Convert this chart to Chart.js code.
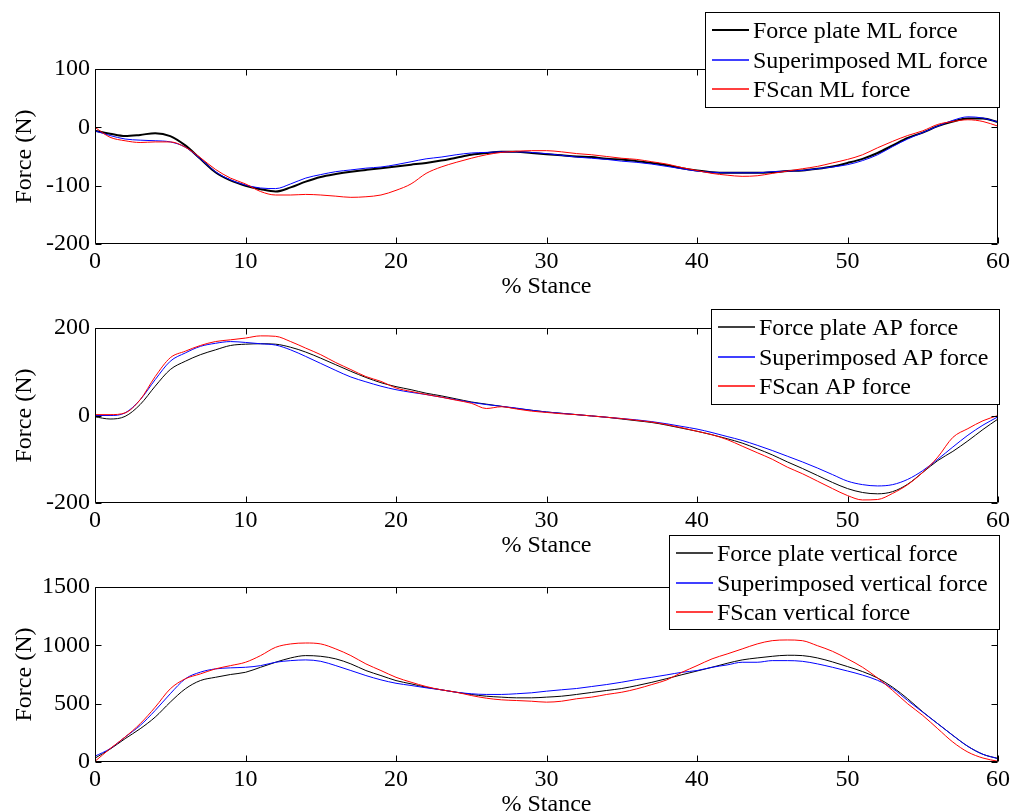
<!DOCTYPE html>
<html>
<head>
<meta charset="utf-8">
<title>Stance force comparison</title>
<script src="https://cdn.jsdelivr.net/npm/chart.js@4.4.0/dist/chart.umd.min.js"></script>
<style>
  html, body { margin: 0; padding: 0; background: #fff; width: 1013px; height: 812px; overflow: hidden; }
  .panel { position: absolute; left: 0; }
</style>
</head>
<body>
<canvas id="mlPanel" class="panel" width="1013" height="301" style="top:0px"></canvas>
<canvas id="apPanel" class="panel" width="1013" height="301" style="top:259px"></canvas>
<canvas id="vtPanel" class="panel" width="1013" height="301" style="top:518px"></canvas>
<script>
// % of stance (x axis samples)
const stancePct = [0,1,2,3,4,5,6,7,8,9,10,11,12,13,14,15,16,17,18,19,20,21,22,23,24,25,26,27,28,29,30,
                   31,32,33,34,35,36,37,38,39,40,41,42,43,44,45,46,47,48,49,50,51,52,53,54,55,56,57,58,59,60];

// Medio-lateral force (N)
const fpML  = [-6,-11,-15,-13,-10,-15,-31,-54,-77,-91,-100,-106,-110,-103,-93,-85,-80,-76,-73,-70,-67,-64,-61,-57,-52,-47,-44,-42,-42,-44,-46,
               -48,-50,-51,-54,-55,-58,-61,-65,-70,-74,-77,-78,-78,-78,-77,-75,-74,-71,-67,-61,-54,-44,-31,-18,-9,2,10,15,15,9];
const supML = [-6,-14,-20,-22,-23,-25,-34,-54,-76,-90,-99,-104,-105,-97,-87,-81,-76,-73,-70,-68,-64,-59,-54,-51,-47,-44,-43,-42,-42,-43,-45,
               -48,-51,-53,-55,-58,-60,-63,-67,-71,-75,-77,-78,-78,-78,-76,-75,-74,-71,-68,-64,-57,-47,-33,-20,-9,2,12,18,16,9];
const fsML  = [0,-17,-23,-26,-25,-25,-34,-52,-72,-87,-97,-110,-116,-116,-115,-116,-118,-120,-119,-116,-108,-97,-79,-68,-60,-53,-47,-43,-41,-40,-40,
               -42,-45,-47,-50,-53,-55,-59,-63,-69,-74,-79,-82,-84,-83,-79,-75,-71,-67,-61,-55,-47,-35,-24,-14,-6,5,10,13,10,2];

// Antero-posterior force (N)
const fpAP  = [-3,-8,-2,25,67,105,124,139,150,160,163,164,163,156,145,131,116,101,87,75,66,59,51,45,38,31,26,21,16,12,8,
               5,2,-1,-4,-8,-12,-16,-22,-29,-36,-44,-53,-63,-76,-90,-106,-121,-137,-153,-167,-176,-179,-174,-157,-130,-103,-82,-58,-32,-8];
const supAP = [0,0,6,36,82,124,143,158,165,169,167,164,161,150,135,119,103,88,77,67,59,53,48,42,36,30,25,21,17,12,8,
               5,2,-1,-4,-7,-10,-14,-19,-25,-31,-39,-48,-57,-68,-80,-93,-106,-120,-135,-150,-158,-161,-158,-146,-126,-100,-72,-45,-22,-3];
const fsAP  = [2,2,6,36,89,132,147,160,169,173,177,182,181,169,154,139,121,105,89,78,63,55,48,42,35,28,16,20,15,10,7,
               4,2,-1,-4,-7,-11,-15,-21,-28,-36,-44,-55,-70,-85,-100,-118,-133,-150,-167,-183,-193,-192,-178,-158,-130,-95,-50,-30,-12,0];

// Vertical force (N)
const fpVert  = [33,110,200,285,385,513,627,698,726,750,769,812,855,892,912,906,884,841,784,741,698,670,641,619,598,579,564,556,550,550,556,
                 564,579,596,613,630,655,683,715,748,780,812,846,875,892,906,915,912,892,858,818,775,720,641,542,430,328,228,134,66,30];
const supVert = [50,114,214,313,442,585,713,770,798,807,812,826,855,869,875,863,826,784,741,704,675,656,636,619,598,585,579,579,585,593,607,
                 619,630,647,664,684,707,726,747,769,784,812,832,855,855,869,869,863,841,812,780,745,700,630,527,427,328,228,134,66,29];
const fsVert  = [6,114,214,328,470,627,713,755,798,826,855,912,983,1012,1020,1012,969,912,841,784,726,684,647,619,598,570,547,533,527,521,513,
                 521,542,556,579,598,627,664,704,769,826,884,926,969,1012,1040,1046,1040,997,949,884,812,720,613,499,399,285,171,85,34,6];

// Tick values
const stanceTicks = [0,10,20,30,40,50,60];
const mlTicks   = [-200,-100,0,100];
const apTicks   = [-200,0,200];
const vertTicks = [0,500,1000,1500];

// Legend entries
const mlNames   = ['Force plate ML force', 'Superimposed ML force', 'FScan ML force'];
const apNames   = ['Force plate AP force', 'Superimposed AP force', 'FScan AP force'];
const vertNames = ['Force plate vertical force', 'Superimposed vertical force', 'FScan vertical force'];

const seriesColors = ['#000000', '#0000ff', '#ff0000'];
const serif = '"Liberation Serif", "Times New Roman", Times, serif';
const labelFont = { family: serif, size: 24 };

// Box around the plot area with inward tick marks on all four sides
const axesBox = {
  id: 'axesBox',
  afterDatasetsDraw(chart) {
    const { ctx, chartArea: a, scales: { x, y } } = chart;
    const L = Math.round(a.left) + 0.5, R = Math.round(a.right) - 0.5;
    const T = Math.round(a.top) + 0.5, B = Math.round(a.bottom) - 0.5;
    const len = 6;
    ctx.save();
    ctx.strokeStyle = '#000';
    ctx.lineWidth = 1;
    ctx.beginPath();
    ctx.rect(L, T, R - L, B - T);
    x.ticks.forEach(t => {
      const px = Math.round(x.getPixelForValue(t.value)) + 0.5;
      ctx.moveTo(px, B); ctx.lineTo(px, B - len);
      ctx.moveTo(px, T); ctx.lineTo(px, T + len);
    });
    y.ticks.forEach(t => {
      const py = Math.round(y.getPixelForValue(t.value)) + 0.5;
      ctx.moveTo(L, py); ctx.lineTo(L + len, py);
      ctx.moveTo(R, py); ctx.lineTo(R - len, py);
    });
    ctx.stroke();
    ctx.restore();
  }
};

// Boxed legend listing the datasets with a short line sample each
const boxLegend = {
  id: 'boxLegend',
  afterDraw(chart, args, opts) {
    const { ctx } = chart;
    const { left, top, right, bottom, rows } = opts;
    ctx.save();
    ctx.fillStyle = '#fff';
    ctx.fillRect(left, top, right - left, bottom - top);
    ctx.strokeStyle = '#000';
    ctx.lineWidth = 1;
    ctx.strokeRect(left + 0.5, top + 0.5, right - left - 1, bottom - top - 1);
    ctx.font = '24px ' + serif;
    ctx.textBaseline = 'alphabetic';
    ctx.textAlign = 'left';
    chart.data.datasets.forEach((ds, i) => {
      const ly = Math.round(top + rows[i]);
      ctx.beginPath();
      ctx.strokeStyle = seriesColors[i];
      ctx.lineWidth = ds.borderWidth > 1 ? ds.borderWidth : 1.3;
      ctx.moveTo(left + 7, ly);
      ctx.lineTo(left + 44, ly);
      ctx.stroke();
      ctx.fillStyle = '#000';
      ctx.fillText(ds.label, left + 48, ly + 8);
    });
    ctx.restore();
  }
};

function makePanel(id, series, names, widths, yTicks, legendBox) {
  return new Chart(document.getElementById(id), {
    type: 'line',
    data: {
      datasets: series.map((vals, i) => ({
        label: names[i],
        data: stancePct.map((s, k) => ({ x: s, y: vals[k] })),
        borderColor: seriesColors[i],
        borderWidth: widths[i],
        pointRadius: 0,
        fill: false,
        cubicInterpolationMode: 'monotone',
        order: series.length - i
      }))
    },
    options: {
      responsive: false,
      animation: false,
      devicePixelRatio: 1,
      layout: { padding: { top: 69, left: 0, right: 14, bottom: 0 } },
      plugins: {
        legend: { display: false },
        tooltip: { enabled: false },
        boxLegend: legendBox
      },
      scales: {
        x: {
          type: 'linear',
          min: stanceTicks[0],
          max: stanceTicks[stanceTicks.length - 1],
          afterBuildTicks: s => { s.ticks = stanceTicks.map(v => ({ value: v })); },
          afterFit: s => { s.height = 57; },
          grid: { display: false, drawTicks: false },
          border: { display: false },
          ticks: { padding: 3, color: '#000', font: labelFont, maxRotation: 0, autoSkip: false },
          title: { display: true, text: '% Stance', color: '#000', font: labelFont, padding: { top: 0, bottom: 0 } }
        },
        y: {
          type: 'linear',
          min: yTicks[0],
          max: yTicks[yTicks.length - 1],
          afterBuildTicks: s => { s.ticks = yTicks.map(v => ({ value: v })); },
          afterFit: s => { s.width = 95; },
          grid: { display: false, drawTicks: false },
          border: { display: false },
          ticks: { padding: 5, color: '#000', font: labelFont, autoSkip: false, callback: v => String(v) },
          title: { display: true, text: 'Force (N)', color: '#000', font: labelFont, padding: { top: 10, bottom: 0 } }
        }
      }
    },
    plugins: [axesBox, boxLegend]
  });
}

const legendRows = [18, 47.5, 77];
makePanel('mlPanel', [fpML, supML, fsML], mlNames, [2, 1, 1], mlTicks,
          { left: 705, top: 12, right: 1000, bottom: 108, rows: legendRows });
makePanel('apPanel', [fpAP, supAP, fsAP], apNames, [1, 1, 1], apTicks,
          { left: 711, top: 50, right: 1000, bottom: 146, rows: legendRows });
makePanel('vtPanel', [fpVert, supVert, fsVert], vertNames, [1, 1, 1], vertTicks,
          { left: 669, top: 17, right: 1000, bottom: 112, rows: legendRows });
</script>
</body>
</html>
